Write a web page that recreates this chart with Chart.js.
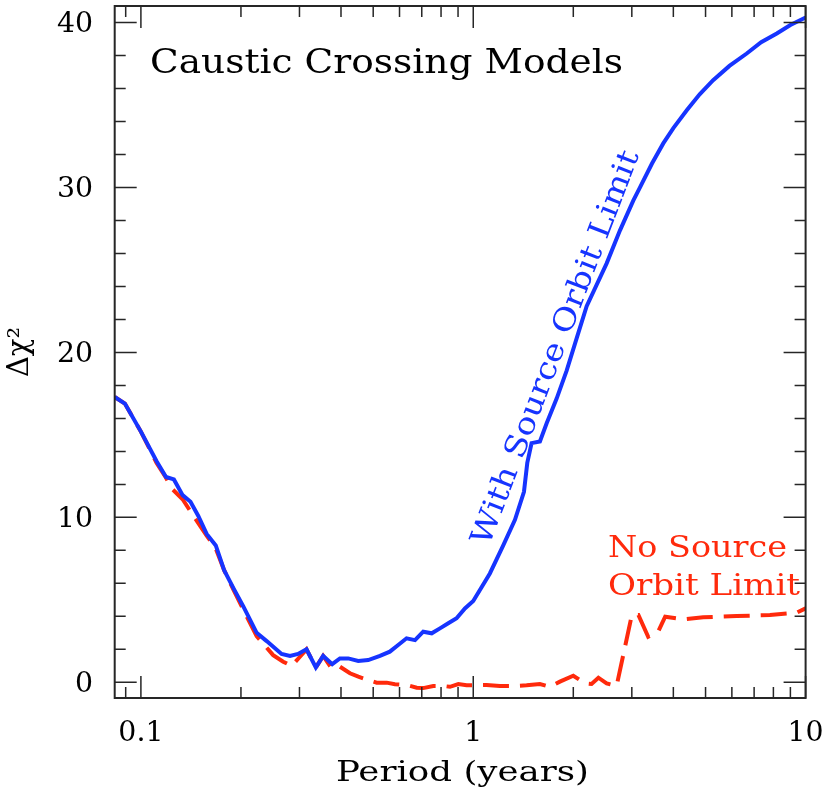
<!DOCTYPE html>
<html>
<head>
<meta charset="utf-8">
<script src="https://cdn.jsdelivr.net/npm/chart.js@4.4.1/dist/chart.umd.min.js"></script>
<style>
  html, body { margin: 0; padding: 0; background: #fff; }
  canvas { display: block; }
</style>
</head>
<body>
<canvas id="chart" width="831" height="796"></canvas>
<script>
// period (years) and delta chi^2
const blueP = [0.0834, 0.0895, 0.1, 0.1115, 0.119, 0.1257, 0.1335, 0.141, 0.1487, 0.1577,
  0.168, 0.178, 0.19, 0.2033, 0.223, 0.239, 0.265, 0.281, 0.297, 0.315,
  0.336, 0.3535, 0.3764, 0.397, 0.4206, 0.4508, 0.483, 0.524, 0.561, 0.5945,
  0.63, 0.668, 0.707, 0.75, 0.794, 0.841, 0.891, 0.944, 1.0, 1.122,
  1.231, 1.335, 1.421, 1.454, 1.498, 1.587, 1.663, 1.782, 1.91, 2.05,
  2.194, 2.52, 2.764, 3.03, 3.175, 3.45, 3.73, 4.0, 4.39, 4.8,
  5.27, 5.9, 6.65, 7.35, 8.19, 9.0, 10];
const blueChi = [17.3, 16.9, 15.2, 13.4, 12.45, 12.3, 11.35, 10.95, 10.1, 9.0,
  8.3, 6.8, 5.7, 4.6, 3.0, 2.5, 1.72, 1.6, 1.72, 2.0,
  0.9, 1.6, 1.1, 1.45, 1.45, 1.3, 1.35, 1.6, 1.86, 2.26,
  2.67, 2.56, 3.07, 2.97, 3.27, 3.58, 3.88, 4.48, 4.93, 6.6,
  8.3, 9.85, 11.55, 13.3, 14.5, 14.6, 15.7, 17.2, 18.9, 20.9,
  22.8, 25.4, 27.4, 29.2, 30.0, 31.45, 32.67, 33.6, 34.68, 35.65,
  36.5, 37.37, 38.12, 38.8, 39.33, 39.85, 40.3];

const redP = [0.0834, 0.0895, 0.1, 0.1115, 0.119, 0.1237, 0.1335, 0.1454, 0.1577, 0.168,
  0.178, 0.19, 0.2033, 0.223, 0.25, 0.268, 0.284, 0.301, 0.315, 0.336,
  0.3535, 0.375, 0.397, 0.4256, 0.451, 0.483, 0.512, 0.549, 0.581, 0.63,
  0.676, 0.707, 0.758, 0.812, 0.851, 0.902, 0.955, 1.0, 1.097, 1.203,
  1.32, 1.447, 1.587, 1.7, 1.823, 2.0, 2.17, 2.27, 2.38, 2.52,
  2.7, 3.0, 3.14, 3.36, 3.6, 3.78, 4.28, 4.92, 6.2, 7.81,
  9.4, 10];
const redChi = [17.3, 16.9, 15.2, 13.3, 12.4, 11.76, 11.1, 9.95, 8.9, 8.1,
  6.8, 5.6, 4.4, 2.8, 1.65, 1.25, 1.0, 1.55, 2.0, 0.9,
  1.6, 0.85, 0.95, 0.55, 0.34, 0.14, -0.02, -0.02, -0.12, -0.16,
  -0.33, -0.35, -0.22, -0.22, -0.27, -0.1, -0.18, -0.18, -0.16, -0.22,
  -0.22, -0.18, -0.1, -0.27, 0.04, 0.4, -0.06, -0.1, 0.28, -0.06,
  -0.22, 4.08, 4.08, 2.76, 3.07, 3.98, 3.82, 3.94, 4.02, 4.08,
  4.22, 4.48];

const xTickValues = [0.1, 1, 10];
const xTickLabels = ['0.1', '1', '10'];
const yTickValues = [0, 10, 20, 30, 40];
const yTickLabels = ['0', '10', '20', '30', '40'];

const BLUE = 'rgb(22,52,255)';
const RED = 'rgb(255,42,12)';
const FONT = '"DejaVu Serif", serif';

function toPoints(xs, ys) {
  return xs.map((v, i) => ({ x: v, y: ys[i] }));
}

// text with its own horizontal stretch, to get the wide plotter look
function drawText(ctx, str, x, y, size, opts) {
  const o = opts || {};
  ctx.save();
  ctx.font = size + 'px ' + FONT;
  const w = ctx.measureText(str).width;
  const sx = o.width ? o.width / w : (o.sx || 1);
  ctx.translate(x, y);
  if (o.angle) ctx.rotate(o.angle);
  ctx.scale(sx, 1);
  ctx.fillStyle = o.color || '#000';
  ctx.textAlign = o.align || 'left';
  ctx.textBaseline = 'alphabetic';
  ctx.fillText(str, 0, 0);
  ctx.restore();
}

const framePlugin = {
  id: 'frame',
  afterDatasetsDraw(chart) {
    const { ctx, chartArea: a, scales: { x, y } } = chart;
    ctx.save();
    ctx.strokeStyle = '#262626';
    ctx.lineWidth = 1.5;
    ctx.beginPath();
    const xMinor = [0.09];
    for (let d = 0.1; d < 10; d *= 10) {
      for (let k = 2; k <= 9; k++) xMinor.push(+(k * d).toFixed(3));
    }
    xMinor.forEach(v => {
      const p = x.getPixelForValue(v);
      ctx.moveTo(p, a.bottom); ctx.lineTo(p, a.bottom - 11);
      ctx.moveTo(p, a.top); ctx.lineTo(p, a.top + 11);
    });
    xTickValues.forEach(v => {
      const p = x.getPixelForValue(v);
      ctx.moveTo(p, a.bottom); ctx.lineTo(p, a.bottom - 22);
      ctx.moveTo(p, a.top); ctx.lineTo(p, a.top + 22);
    });
    for (let v = 0; v <= 40; v += 2) {
      const p = y.getPixelForValue(v);
      const len = v % 10 === 0 ? 22 : 11;
      ctx.moveTo(a.left, p); ctx.lineTo(a.left + len, p);
      ctx.moveTo(a.right, p); ctx.lineTo(a.right - len, p);
    }
    ctx.stroke();
    ctx.lineWidth = 2;
    ctx.strokeRect(a.left, a.top, a.right - a.left, a.bottom - a.top);
    ctx.restore();
  },
  afterDraw(chart) {
    const { ctx, scales: { x, y } } = chart;
    // tick labels
    yTickValues.forEach((v, i) => {
      drawText(ctx, yTickLabels[i], 93, y.getPixelForValue(v) + 10, 27, { align: 'right', sx: 1.05 });
    });
    xTickValues.forEach((v, i) => {
      drawText(ctx, xTickLabels[i], x.getPixelForValue(v), 741, 27, { align: 'center', sx: 1.05 });
    });
    // axis titles
    drawText(ctx, 'Period (years)', 462.5, 781, 27, { align: 'center', width: 253 });
    drawText(ctx, 'Δχ²', 28, 352, 29, { align: 'center', angle: -Math.PI / 2 });
    // annotations
    drawText(ctx, 'Caustic Crossing Models', 150, 73, 34, { width: 473 });
    drawText(ctx, 'With Source Orbit Limit', 564, 351, 30,
      { align: 'center', width: 420, angle: -69 * Math.PI / 180, color: BLUE });
    drawText(ctx, 'No Source', 608, 557, 30, { width: 179, color: RED });
    drawText(ctx, 'Orbit Limit', 608, 595, 30, { width: 192, color: RED });
  }
};

new Chart(document.getElementById('chart'), {
  type: 'line',
  data: {
    datasets: [
      {
        label: 'With Source Orbit Limit',
        data: toPoints(blueP, blueChi),
        borderColor: BLUE,
        borderWidth: 4,
        pointRadius: 0,
        tension: 0,
        order: 0
      },
      {
        label: 'No Source Orbit Limit',
        data: toPoints(redP, redChi),
        borderColor: RED,
        borderWidth: 4,
        borderDash: [26, 11],
        pointRadius: 0,
        tension: 0,
        order: 1
      }
    ]
  },
  options: {
    responsive: false,
    animation: false,
    devicePixelRatio: 1,
    layout: { padding: { top: 6, right: 25.4, left: 0, bottom: 0 } },
    plugins: { legend: { display: false }, tooltip: { enabled: false } },
    scales: {
      x: {
        type: 'logarithmic',
        min: 0.0834,
        max: 10,
        grid: { display: false },
        border: { display: false },
        ticks: { display: false },
        afterFit(s) { s.height = 98; s.paddingLeft = 0; s.paddingRight = 0; }
      },
      y: {
        type: 'linear',
        min: -0.95,
        max: 41,
        grid: { display: false },
        border: { display: false },
        ticks: { display: false },
        afterFit(s) { s.width = 114.7; s.paddingTop = 0; s.paddingBottom = 0; }
      }
    }
  },
  plugins: [framePlugin]
});
</script>
</body>
</html>
